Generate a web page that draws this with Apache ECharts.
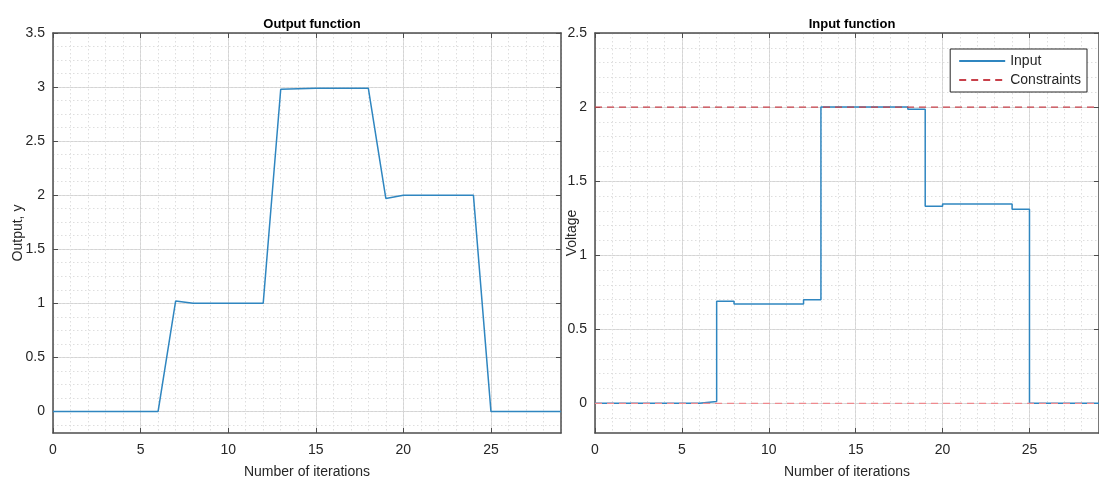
<!DOCTYPE html>
<html>
<head>
<meta charset="utf-8">
<script src="https://cdn.jsdelivr.net/npm/echarts@6/dist/echarts.min.js"></script>
<style>html,body{margin:0;padding:0;background:#fff}#c{width:1099px;height:485px}</style>
</head>
<body>
<div id="c"></div>
<script>
// ---- data ----
const iterations = [0,1,2,3,4,5,6,7,8,9,10,11,12,13,14,15,16,17,18,19,20,21,22,23,24,25,26,27,28,29];
const outputY = [0,0,0,0,0,0,0,1.02,1.0,1.0,1.0,1.0,1.0,2.98,2.985,2.99,2.99,2.99,2.99,1.97,2.0,2.0,2.0,2.0,2.0,0,0,0,0,0];
const inputU  = [0,0,0,0,0,0,0.012,0.69,0.67,0.67,0.67,0.67,0.70,2.0,2.0,2.0,2.0,2.0,1.985,1.33,1.345,1.345,1.345,1.345,1.31,0,0,0,0,0];
const constraintUpper = 2;
const constraintLower = 0;
const xTicks = [0,5,10,15,20,25];
const leftYTicks = [0,0.5,1,1.5,2,2.5,3,3.5];
const rightYTicks = [0,0.5,1,1.5,2,2.5];
const leftYMinor = [-0.125,0,0.125,0.25,0.375,0.5,0.625,0.75,0.875,1,1.125,1.25,1.375,1.5,1.625,1.75,1.875,2,2.125,2.25,2.375,2.5,2.625,2.75,2.875,3,3.125,3.25,3.375,3.5];
const rightYMinor = [-0.1,0,0.1,0.2,0.3,0.4,0.5,0.6,0.7,0.8,0.9,1,1.1,1.2,1.3,1.4,1.5,1.6,1.7,1.8,1.9,2,2.1,2.2,2.3,2.4,2.5];

const xMax = 29;
const font = "'Liberation Sans', Arial, sans-serif";
const blue = '#2f86c0';
const frame = '#4d4d4d';

function pairs(xs, ys){ return xs.map((x,i)=>[x, ys[i]]); }

const chart = echarts.init(document.getElementById('c'));

function xAxes(gi){
  const base = {gridIndex: gi, type: 'value', min: 0, max: xMax};
  return [
    Object.assign({}, base, {
      position: 'bottom',
      axisLine: {show: true, onZero: false, lineStyle: {color: frame, width: 1.5}},
      axisTick: {show: true, inside: true, length: 5, lineStyle: {color: frame}, customValues: xTicks},
      axisLabel: {show: true, color: '#262626', fontSize: 14, fontFamily: font, margin: 10, customValues: xTicks},
      splitLine: {show: true, lineStyle: {color: '#d4d4d4', width: 1}},
      name: 'Number of iterations', nameLocation: 'middle', nameGap: 32, nameMoveOverlap: false,
      nameTextStyle: {color: '#262626', fontSize: 14, fontFamily: font}
    }),
    Object.assign({}, base, {
      position: 'top',
      axisLine: {show: true, onZero: false, lineStyle: {color: frame, width: 1.5}},
      axisTick: {show: true, inside: true, length: 5, lineStyle: {color: frame}, customValues: xTicks},
      axisLabel: {show: false}, splitLine: {show: false}
    }),
    Object.assign({}, base, {
      position: 'bottom', interval: 1,
      axisLine: {show: false}, axisTick: {show: false}, axisLabel: {show: false},
      splitLine: {show: true, lineStyle: {color: '#dedede', type: [1.5, 2.5], width: 1}}
    })
  ];
}

function yAxes(gi, max, minor, ticks, name, nameGap){
  const base = {gridIndex: gi, type: 'value', min: -0.2, max: max};
  return [
    Object.assign({}, base, {
      position: 'left',
      axisLine: {show: true, onZero: false, lineStyle: {color: frame, width: 1.5}},
      axisTick: {show: true, inside: true, length: 5, lineStyle: {color: frame}, customValues: ticks},
      axisLabel: {show: true, color: '#262626', fontSize: 14, fontFamily: font, margin: 8, customValues: ticks},
      splitLine: {show: true, lineStyle: {color: '#d4d4d4', width: 1}},
      name: name, nameLocation: 'middle', nameGap: nameGap, nameRotate: 90, nameMoveOverlap: false,
      nameTextStyle: {color: '#262626', fontSize: 14, fontFamily: font}
    }),
    Object.assign({}, base, {
      position: 'right',
      axisLine: {show: true, onZero: false, lineStyle: {color: frame, width: 1.5}},
      axisTick: {show: true, inside: true, length: 5, lineStyle: {color: frame}, customValues: ticks},
      axisLabel: {show: false}, splitLine: {show: false}
    }),
    Object.assign({}, base, {
      position: 'left',
      axisLine: {show: false}, axisTick: {show: false, customValues: minor}, axisLabel: {show: false},
      splitLine: {show: true, lineStyle: {color: '#dedede', type: [1.5, 2.5], width: 1}}
    })
  ];
}

const option = {
  backgroundColor: '#fff',
  animation: false,
  title: [
    {text: 'Output function', left: 307, top: 13, textAlign: 'center',
     textStyle: {fontSize: 13, fontWeight: 'bold', color: '#000', fontFamily: font}},
    {text: 'Input function', left: 847, top: 13, textAlign: 'center',
     textStyle: {fontSize: 13, fontWeight: 'bold', color: '#000', fontFamily: font}}
  ],
  grid: [
    {left: 53, top: 33, width: 508, height: 400},
    {left: 595, top: 33, width: 506, height: 400}
  ],
  xAxis: [].concat(xAxes(0), xAxes(1)),
  yAxis: [].concat(yAxes(0, 3.5, leftYMinor, leftYTicks, 'Output, y', 28), yAxes(1, 2.5, rightYMinor, rightYTicks, 'Voltage', 16)),
  legend: {
    right: 12, top: 49, orient: 'vertical',
    data: ['Input', 'Constraints'],
    backgroundColor: '#fff', borderColor: '#262626', borderWidth: 1,
    padding: [5, 6, 5, 8], itemGap: 5, itemWidth: 46, itemHeight: 14,
    itemStyle: {opacity: 0},
    textStyle: {fontSize: 14, fontFamily: font, color: '#262626'}
  },
  series: [
    {type: 'line', name: 'Output', xAxisIndex: 0, yAxisIndex: 0, data: pairs(iterations, outputY),
     symbol: 'none', lineStyle: {color: blue, width: 1.5}, itemStyle: {color: blue}, z: 5},
    {type: 'line', name: 'Input', xAxisIndex: 3, yAxisIndex: 3, data: pairs(iterations, inputU), step: 'end',
     symbol: 'none', lineStyle: {color: blue, width: 1.5}, itemStyle: {color: blue}, z: 5},
    {type: 'line', name: 'Constraints', xAxisIndex: 3, yAxisIndex: 3,
     data: [[0, constraintUpper], [xMax, constraintUpper]],
     symbol: 'none', lineStyle: {color: '#c8404a', width: 1.3, type: [7, 5]}, itemStyle: {color: '#c8404a'}, z: 6},
    {type: 'line', name: 'Constraints', xAxisIndex: 3, yAxisIndex: 3,
     data: [[0, constraintLower], [xMax, constraintLower]],
     symbol: 'none', lineStyle: {color: '#ef8a8f', width: 1.3, type: [7, 5]}, itemStyle: {color: '#ef8a8f'}, z: 6}
  ]
};
chart.setOption(option);
</script>
</body>
</html>
